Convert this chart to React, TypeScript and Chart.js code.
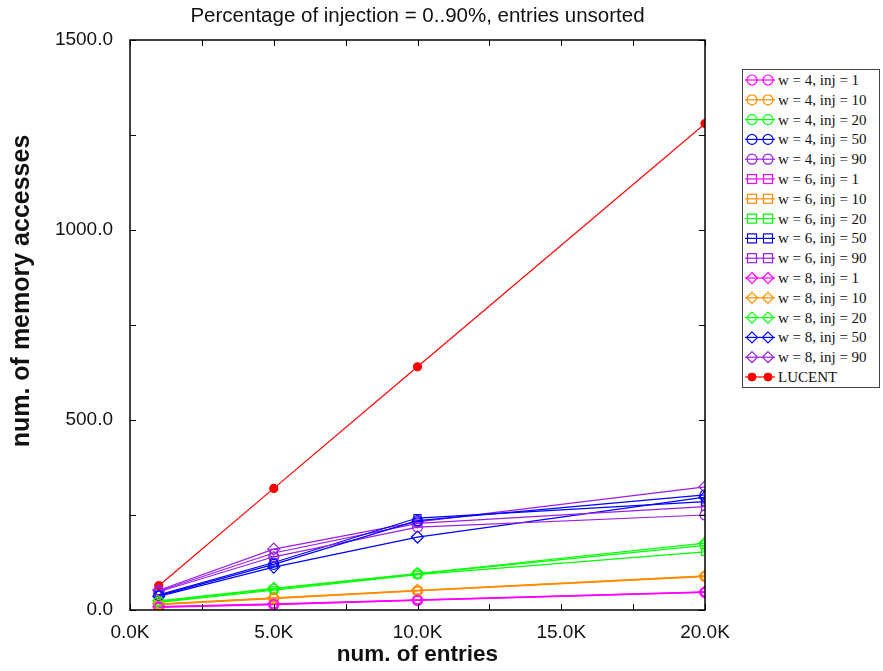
import React, { useEffect, useRef } from "react";
import { Chart, registerables } from "chart.js";

Chart.register(...registerables);

const entries = [1000, 5000, 10000, 20000];

const w4inj1 = [7, 14, 25, 46];
const w4inj10 = [14, 30, 50, 88];
const w4inj20 = [22, 55, 95, 170];
const w4inj50 = [38, 120, 235, 303];
const w4inj90 = [48, 140, 218, 250];
const w6inj1 = [8, 15, 26, 47];
const w6inj10 = [15, 31, 51, 89];
const w6inj20 = [20, 52, 93, 153];
const w6inj50 = [40, 125, 242, 285];
const w6inj90 = [50, 150, 228, 272];
const w8inj1 = [9, 16, 27, 48];
const w8inj10 = [16, 32, 52, 90];
const w8inj20 = [24, 57, 96, 176];
const w8inj50 = [36, 113, 192, 297];
const w8inj90 = [52, 160, 232, 324];
const lucent = [64, 320, 640, 1280];

const xTicks = ["0.0K", "5.0K", "10.0K", "15.0K", "20.0K"];
const yTicks = ["0.0", "500.0", "1000.0", "1500.0"];

const MAGENTA = "#ff00ff";
const ORANGE = "#ff8c00";
const GREEN = "#00ff00";
const BLUE = "#0000ff";
const PURPLE = "#9a1ee6";
const RED = "#ff0000";

const SANS = "'Liberation Sans', Arial, sans-serif";

type S = { label: string; data: number[]; color: string; marker: "circle" | "rect" | "rectRot" | "dot" };

const series: S[] = [
  { label: "w = 4, inj = 1", data: w4inj1, color: MAGENTA, marker: "circle" },
  { label: "w = 4, inj = 10", data: w4inj10, color: ORANGE, marker: "circle" },
  { label: "w = 4, inj = 20", data: w4inj20, color: GREEN, marker: "circle" },
  { label: "w = 4, inj = 50", data: w4inj50, color: BLUE, marker: "circle" },
  { label: "w = 4, inj = 90", data: w4inj90, color: PURPLE, marker: "circle" },
  { label: "w = 6, inj = 1", data: w6inj1, color: MAGENTA, marker: "rect" },
  { label: "w = 6, inj = 10", data: w6inj10, color: ORANGE, marker: "rect" },
  { label: "w = 6, inj = 20", data: w6inj20, color: GREEN, marker: "rect" },
  { label: "w = 6, inj = 50", data: w6inj50, color: BLUE, marker: "rect" },
  { label: "w = 6, inj = 90", data: w6inj90, color: PURPLE, marker: "rect" },
  { label: "w = 8, inj = 1", data: w8inj1, color: MAGENTA, marker: "rectRot" },
  { label: "w = 8, inj = 10", data: w8inj10, color: ORANGE, marker: "rectRot" },
  { label: "w = 8, inj = 20", data: w8inj20, color: GREEN, marker: "rectRot" },
  { label: "w = 8, inj = 50", data: w8inj50, color: BLUE, marker: "rectRot" },
  { label: "w = 8, inj = 90", data: w8inj90, color: PURPLE, marker: "rectRot" },
  { label: "LUCENT", data: lucent, color: RED, marker: "dot" },
];

const framePlugin = {
  id: "frame",
  afterDatasetsDraw(chart: any) {
    const { ctx, chartArea: a, scales } = chart;
    ctx.save();
    ctx.strokeStyle = "#000";
    ctx.lineWidth = 1.5;
    ctx.strokeRect(a.left, a.top, a.right - a.left, a.bottom - a.top);
    ctx.lineWidth = 1;
    const tl = 6;
    for (const t of scales.x.ticks) {
      const px = Math.round(scales.x.getPixelForValue(t.value)) + 0.5;
      ctx.beginPath();
      ctx.moveTo(px, a.bottom);
      ctx.lineTo(px, a.bottom - tl);
      ctx.moveTo(px, a.top);
      ctx.lineTo(px, a.top + tl);
      ctx.stroke();
    }
    for (const t of scales.y.ticks) {
      const py = Math.round(scales.y.getPixelForValue(t.value)) + 0.5;
      ctx.beginPath();
      ctx.moveTo(a.left, py);
      ctx.lineTo(a.left + tl, py);
      ctx.moveTo(a.right, py);
      ctx.lineTo(a.right - tl, py);
      ctx.stroke();
    }
    ctx.fillStyle = "#111";
    ctx.textAlign = "center";
    ctx.textBaseline = "middle";
    ctx.font = `20.5px ${SANS}`;
    ctx.fillText("Percentage of injection = 0..90%, entries unsorted", (a.left + a.right) / 2, 16);
    ctx.font = `bold 22.5px ${SANS}`;
    ctx.fillText("num. of entries", (a.left + a.right) / 2, 655);
    ctx.save();
    ctx.translate(22, 291);
    ctx.rotate(-Math.PI / 2);
    ctx.font = `bold 25px ${SANS}`;
    ctx.fillText("num. of memory accesses", 0, 0);
    ctx.restore();
    ctx.restore();
  },
};

function LegendMarker({ m, x, y, c }: { m: string; x: number; y: number; c: string }) {
  if (m === "circle") return <circle cx={x} cy={y} r={5} fill="none" stroke={c} strokeWidth={1.2} />;
  if (m === "rect") return <rect x={x - 4.5} y={y - 4.5} width={9} height={9} fill="none" stroke={c} strokeWidth={1.2} />;
  if (m === "rectRot")
    return <polygon points={`${x},${y - 5.5} ${x + 5.5},${y} ${x},${y + 5.5} ${x - 5.5},${y}`} fill="none" stroke={c} strokeWidth={1.2} />;
  return <circle cx={x} cy={y} r={4} fill={c} stroke={c} />;
}

export default function App() {
  const ref = useRef<HTMLCanvasElement>(null);
  useEffect(() => {
    if (!ref.current) return;
    const chart = new Chart(ref.current, {
      type: "line",
      data: {
        datasets: series.map((s) => ({
          label: s.label,
          data: entries.map((x, i) => ({ x, y: s.data[i] })),
          borderColor: s.color,
          backgroundColor: s.marker === "dot" ? s.color : "rgba(0,0,0,0)",
          borderWidth: 1.2,
          pointStyle: s.marker === "dot" ? "circle" : s.marker,
          pointRadius: s.marker === "dot" ? 4 : s.marker === "rectRot" ? 6 : 5,
          pointBorderWidth: 1.2,
          pointBorderColor: s.color,
          pointBackgroundColor: s.marker === "dot" ? s.color : "rgba(0,0,0,0)",
          tension: 0,
        })),
      },
      options: {
        animation: false,
        responsive: false,
        maintainAspectRatio: false,
        layout: { padding: { left: 0, right: 178, top: 40, bottom: 0 } },
        plugins: { legend: { display: false }, title: { display: false }, tooltip: { enabled: false } },
        scales: {
          x: {
            type: "linear",
            min: 0,
            max: 20000,
            grid: { display: false, drawTicks: false },
            border: { display: false },
            afterFit: (s: any) => {
              s.height = 61;
            },
            ticks: {
              stepSize: 2500,
              padding: 11,
              color: "#111",
              font: { size: 19, family: SANS },
              maxRotation: 0,
              autoSkip: false,
              callback: (v: any) => (v % 5000 === 0 ? xTicks[v / 5000] : ""),
            },
            title: { display: false },
          },
          y: {
            min: 0,
            max: 1500,
            grid: { display: false, drawTicks: false },
            border: { display: false },
            afterFit: (s: any) => {
              s.width = 130;
            },
            ticks: {
              stepSize: 250,
              padding: 17,
              color: "#111",
              font: { size: 19, family: SANS },
              autoSkip: false,
              callback: (v: any) => (v % 500 === 0 ? yTicks[v / 500] : ""),
            },
            title: { display: false },
          },
        },
      },
      plugins: [framePlugin],
    } as any);
    return () => chart.destroy();
  }, []);

  const legendTop = 80;
  const step = 19.8;
  return (
    <div style={{ position: "absolute", left: 0, top: 0, width: 883, height: 671, background: "#fff" }}>
      <canvas ref={ref} width={883} height={671} style={{ position: "absolute", left: 0, top: 0 }} />
      <svg width={883} height={671} style={{ position: "absolute", left: 0, top: 0, pointerEvents: "none" }}>
        <rect x={742.5} y={69.5} width={137} height={318} fill="#fff" stroke="#444" strokeWidth={1} />
        {series.map((s, i) => {
          const y = legendTop + i * step;
          return (
            <g key={s.label}>
              <line x1={745} y1={y} x2={775} y2={y} stroke={s.color} strokeWidth={1.2} />
              <LegendMarker m={s.marker} x={752} y={y} c={s.color} />
              <LegendMarker m={s.marker} x={768} y={y} c={s.color} />
              <text x={778} y={y + 5} fontFamily="'Liberation Serif', 'Times New Roman', serif" fontSize={15} fill="#111">
                {s.label}
              </text>
            </g>
          );
        })}
      </svg>
    </div>
  );
}
